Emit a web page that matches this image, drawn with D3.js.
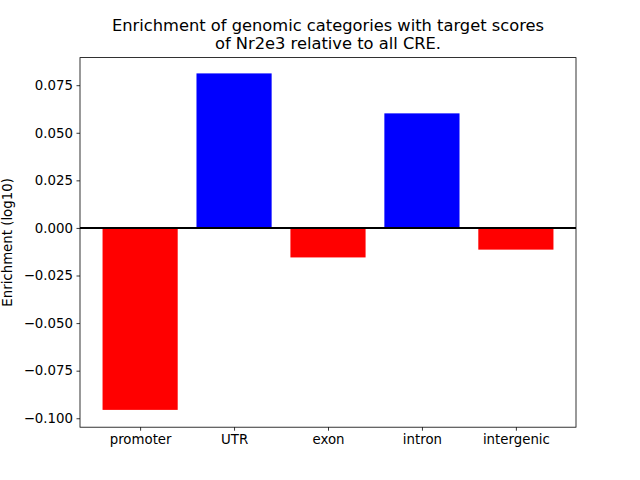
<!DOCTYPE html>
<html><head><meta charset="utf-8">
<script src="https://cdn.jsdelivr.net/npm/d3@7"></script>
<style>body{margin:0;background:#fff}svg{display:block}text{font-family:"DejaVu Sans",sans-serif}</style>
</head><body><svg id="c" width="640" height="480"></svg>
<script>
const categories = ["promoter","UTR","exon","intron","intergenic"];
const values = [-0.0956, 0.0812, -0.0155, 0.0602, -0.0114];
const yTicks = [-0.100,-0.075,-0.050,-0.025,0.000,0.025,0.050,0.075];
const titleLines = ["Enrichment of genomic categories with target scores","of Nr2e3 relative to all CRE."];
const yLabel = "Enrichment (log10)";

const svg = d3.select("#c");
const L=80, R=576, T=57.6, B=427.2;
const x = d3.scaleLinear().domain([-0.64, 4.64]).range([L,R]);
const y = d3.scaleLinear().domain([-0.1047, 0.0895]).range([B,T]);

svg.selectAll("rect.bar").data(values).join("rect").attr("class","bar")
  .attr("x",(d,i)=>x(i-0.4)).attr("width",(d,i)=>x(i+0.4)-x(i-0.4))
  .attr("y",d=>y(Math.max(0,d))).attr("height",d=>Math.abs(y(d)-y(0)))
  .attr("fill",d=>d>=0?"#0000ff":"#ff0000");

svg.append("line").attr("x1",L).attr("x2",R).attr("y1",y(0)).attr("y2",y(0))
  .attr("stroke","#000").attr("stroke-width",2);

const yAxis = d3.axisLeft(y).tickValues(yTicks).tickSize(3.5).tickPadding(3.5)
  .tickFormat(d=>d3.format(".3f")(d).replace("-","\u2212"));
const gy = svg.append("g").attr("transform",`translate(${L},0)`).call(yAxis);
const xAxis = d3.axisBottom(x).tickValues(d3.range(categories.length)).tickSize(3.5).tickPadding(3.5)
  .tickFormat(i=>categories[i]);
const gx = svg.append("g").attr("transform",`translate(0,${B})`).call(xAxis);
[gx,gy].forEach(g=>{g.select(".domain").remove();g.selectAll("text").attr("font-size","13.33px").attr("fill","#000").attr("font-family","DejaVu Sans");g.selectAll("line").attr("stroke","#000").attr("stroke-width",0.8);});

svg.append("rect").attr("x",L).attr("y",T).attr("width",R-L).attr("height",B-T)
  .attr("fill","none").attr("stroke","#000").attr("stroke-width",0.8);

svg.append("text").attr("transform",`translate(7,${(T+B)/2}) rotate(-90)`).attr("text-anchor","middle")
  .attr("dominant-baseline","central").attr("font-size","13.33px").text(yLabel);

const title = svg.append("text").attr("text-anchor","middle").attr("font-size","16.3px");
title.selectAll("tspan").data(titleLines).join("tspan")
  .attr("x",(L+R)/2).attr("y",(d,i)=>30.5+i*18.8).text(d=>d);
</script></body></html>
